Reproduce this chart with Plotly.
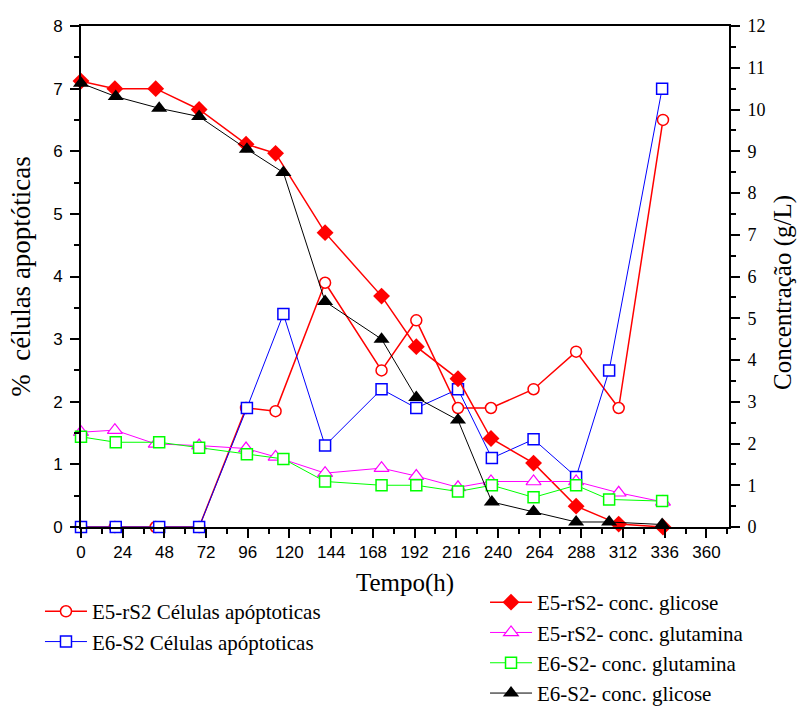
import plotly.graph_objects as go

# Time points (h)
t_e5 = [0, 19.5, 43, 68, 95, 112, 140.5, 173, 193, 217, 236, 260.5, 285, 309.5, 335]
t_e6 = [0, 20, 45, 68, 95.5, 116.5, 140.5, 173, 193, 217, 236.5, 260.5, 285, 304, 334.5]

# % apoptotic cells (left axis)
apop_e5 = [0, 0, 0, 0, 1.9, 1.85, 3.9, 2.5, 3.3, 1.9, 1.9, 2.2, 2.8, 1.9, 6.5]
apop_e6 = [0, 0, 0, 0, 1.9, 3.4, 1.3, 2.2, 1.9, 2.2, 1.1, 1.4, 0.8, 2.5, 7.0]

# Concentrations g/L (right axis)
glc_e5 = [10.68, 10.5, 10.5, 10.0, 9.17, 8.95, 7.05, 5.53, 4.32, 3.55, 2.12, 1.53, 0.5, 0.07, 0.0]
gln_e5 = [2.27, 2.32, 1.99, 1.95, 1.88, 1.68, 1.29, 1.41, 1.22, 0.95, 1.09, 1.09, 1.09, 0.82, 0.6]
gln_e6 = [2.16, 2.03, 2.03, 1.9, 1.74, 1.63, 1.09, 1.0, 1.0, 0.85, 1.0, 0.71, 1.0, 0.66, 0.62]
glc_e6 = [10.63, 10.31, 10.03, 9.83, 9.05, 8.49, 5.4, 4.5, 3.1, 2.56, 0.6, 0.37, 0.12, 0.12, 0.06]

x_ticks = list(range(0, 361, 24))

serif = "Liberation Serif, Times New Roman, serif"
sans = "Liberation Sans, Arial, sans-serif"

fig = go.Figure()

fig.add_trace(go.Scatter(
    x=t_e5, y=apop_e5, yaxis="y", mode="lines+markers", cliponaxis=False,
    name="E5-rS2 Células apóptoticas", legend="legend",
    line=dict(color="#FF0000", width=1.5),
    marker=dict(symbol="circle", size=11, color="white", line=dict(color="#FF0000", width=1.5))))
fig.add_trace(go.Scatter(
    x=t_e6, y=apop_e6, yaxis="y", mode="lines+markers", cliponaxis=False,
    name="E6-S2 Células apóptoticas", legend="legend",
    line=dict(color="#0000FF", width=1),
    marker=dict(symbol="square", size=11, color="white", line=dict(color="#0000FF", width=1.5))))

fig.add_trace(go.Scatter(
    x=t_e5, y=glc_e5, yaxis="y2", mode="lines+markers", cliponaxis=False,
    name="E5-rS2- conc. glicose", legend="legend2",
    line=dict(color="#FF0000", width=1.5),
    marker=dict(symbol="diamond", size=13, color="#FF0000")))
fig.add_trace(go.Scatter(
    x=t_e5, y=gln_e5, yaxis="y2", mode="lines+markers", cliponaxis=False,
    name="E5-rS2- conc. glutamina", legend="legend2",
    line=dict(color="#FF00FF", width=1),
    marker=dict(symbol="triangle-up", size=13, color="white", line=dict(color="#FF00FF", width=1.2))))
fig.add_trace(go.Scatter(
    x=t_e6, y=gln_e6, yaxis="y2", mode="lines+markers", cliponaxis=False,
    name="E6-S2- conc. glutamina", legend="legend2",
    line=dict(color="#00FF00", width=1),
    marker=dict(symbol="square", size=11, color="white", line=dict(color="#00FF00", width=1.5))))
fig.add_trace(go.Scatter(
    x=t_e6, y=glc_e6, yaxis="y2", mode="lines+markers", cliponaxis=False,
    name="E6-S2- conc. glicose", legend="legend2",
    line=dict(color="#000000", width=1),
    marker=dict(symbol="triangle-up", size=14, color="#000000")))

fig.update_layout(
    width=799, height=706,
    margin=dict(l=81, r=70, t=26, b=179, autoexpand=False),
    paper_bgcolor="white", plot_bgcolor="white",
    xaxis=dict(
        range=[0, 373], tickvals=x_ticks, ticks="outside", ticklen=9, tickwidth=2,
        tickcolor="black", showline=True, linewidth=2, linecolor="black", mirror=True,
        showgrid=False, zeroline=False,
        minor=dict(dtick=12, tick0=0, ticks="outside", ticklen=5, tickwidth=2, tickcolor="black"),
        tickfont=dict(family=sans, size=17, color="black"),
        title=dict(text="Tempo(h)", font=dict(family=serif, size=25, color="black"), standoff=12),
    ),
    yaxis=dict(
        range=[0, 8], dtick=1, ticks="outside", ticklen=9, tickwidth=2, tickcolor="black",
        showline=True, linewidth=2, linecolor="black", showgrid=False, zeroline=False,
        ticklabelstandoff=4,
        minor=dict(dtick=0.5, ticks="outside", ticklen=5, tickwidth=2, tickcolor="black"),
        tickfont=dict(family=sans, size=17, color="black"),
        title=dict(text="%\u00a0 células apoptóticas", font=dict(family=serif, size=27, color="black"), standoff=15),
    ),
    yaxis2=dict(
        range=[0, 12], dtick=1, overlaying="y", side="right", anchor="x",
        ticks="outside", ticklen=9, tickwidth=2, tickcolor="black",
        showline=True, linewidth=2, linecolor="black", showgrid=False, zeroline=False,
        ticklabelstandoff=4,
        minor=dict(dtick=0.5, ticks="outside", ticklen=5, tickwidth=2, tickcolor="black"),
        tickfont=dict(family=serif, size=18, color="black"),
    ),
    annotations=[dict(
        text="Concentração (g/L)", textangle=-90, xref="paper", yref="paper",
        x=1.0833, y=0.469, xanchor="center", yanchor="middle", showarrow=False,
        font=dict(family=serif, size=25, color="black"))],
    legend=dict(x=-0.0633, y=-0.128, xanchor="left", yanchor="top", bgcolor="rgba(0,0,0,0)",
                font=dict(family=serif, size=21, color="black"), itemwidth=42),
    legend2=dict(x=0.6235, y=-0.1098, xanchor="left", yanchor="top", bgcolor="rgba(0,0,0,0)",
                 font=dict(family=serif, size=21, color="black"), itemwidth=42),
    showlegend=True,
)

fig.write_html("out.html")
